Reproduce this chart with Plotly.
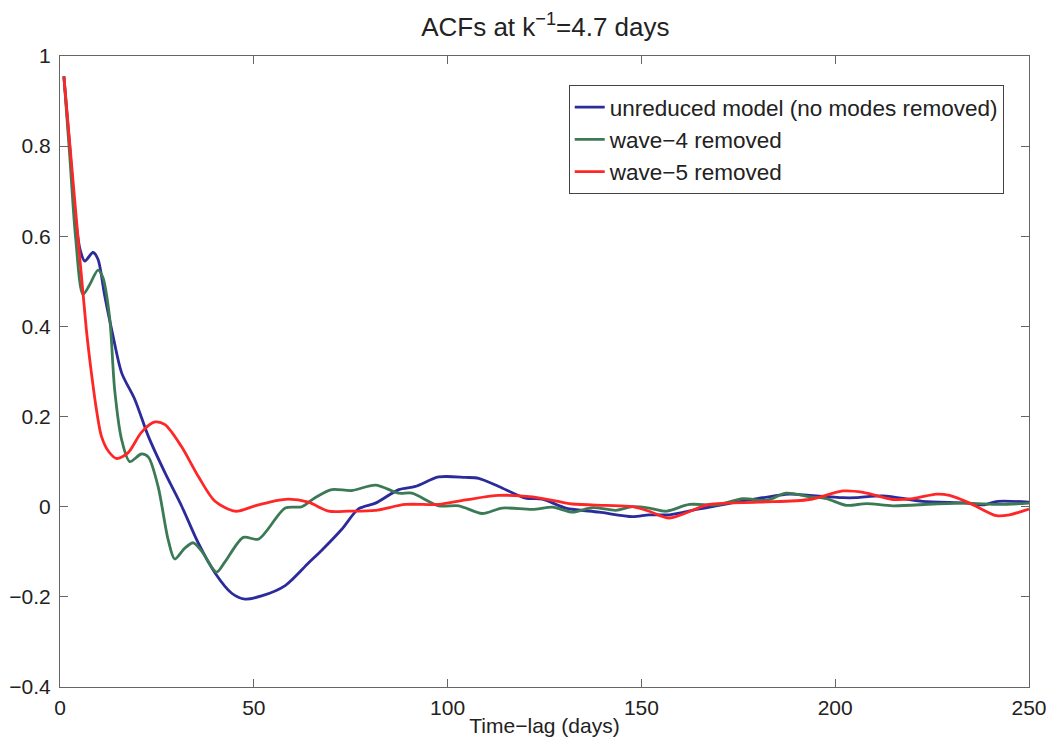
import plotly.graph_objects as go

# ---- data ----
blue_x = [1, 2.5, 4, 5.2, 6.4, 8.5, 9.8, 11.5, 13.7, 15.9, 19.3, 22.8, 27.1, 31.4, 35.7, 40, 44.3, 47.7,
          52, 58.1, 64.1, 67.6, 72.7, 77, 81.4, 87.4, 91.7, 97.7, 104.6, 108, 113.2, 120.1, 124.4, 130.5,
          139.1, 147.7, 152, 157.2, 165, 177.9, 188.2, 193.4, 202, 205.4, 212.3, 222.6, 233.9, 238.2, 242, 250]
blue_y = [0.955, 0.80, 0.64, 0.57, 0.545, 0.564, 0.549, 0.47, 0.378, 0.297, 0.238, 0.156, 0.075, 0.001,
          -0.081, -0.147, -0.192, -0.205, -0.198, -0.175, -0.125, -0.096, -0.05, -0.005, 0.008, 0.038,
          0.045, 0.066, 0.065, 0.063, 0.045, 0.019, 0.017, -0.003, -0.012, -0.022, -0.018, -0.018, -0.005,
          0.015, 0.028, 0.025, 0.02, 0.02, 0.024, 0.012, 0.008, 0.004, 0.012, 0.01]

green_x = [1, 2.5, 4, 5.9, 7.5, 9.8, 11, 12.8, 14.1, 15.9, 18, 21, 22.8, 25.3, 27.9, 29.6, 32.2, 34.4,
           36.5, 40.4, 42.6, 47.3, 51.2, 58.1, 62.4, 65.8, 70.1, 75.3, 81.4, 87.4, 90.8, 97.7, 102.9,
           108.9, 114.1, 121.9, 127.1, 132.2, 137.4, 143.4, 147.7, 152, 156.3, 162.4, 169.3, 176.2,
           182.2, 187.4, 193.4, 197.7, 202.9, 208.1, 214.9, 225.3, 233.9, 242.5, 250]
green_y = [0.955, 0.78, 0.60, 0.471, 0.49, 0.525, 0.51, 0.42, 0.26, 0.149, 0.100, 0.117, 0.110, 0.045,
           -0.073, -0.116, -0.092, -0.080, -0.098, -0.145, -0.122, -0.068, -0.072, -0.003, 0.000, 0.02,
           0.038, 0.036, 0.048, 0.030, 0.030, 0.002, 0.002, -0.015, -0.003, -0.006, -0.001, -0.012,
           -0.002, -0.008, 0.000, -0.003, -0.010, 0.005, 0.004, 0.018, 0.014, 0.030, 0.022, 0.018,
           0.003, 0.007, 0.002, 0.006, 0.008, 0.005, 0.008]

red_x = [1, 4, 6.8, 8.1, 9.5, 10.7, 12.5, 14.6, 17.6, 21, 24.5, 27.1, 31.3, 35.7, 40, 45.2, 50.3, 55,
         58.9, 64.1, 69.3, 74.5, 81.4, 89.1, 97.7, 104.6, 113.2, 121.9, 132.2, 140.8, 147.7, 152,
         157.2, 167.5, 180.5, 193.4, 202, 207.2, 214.9, 220.1, 226.1, 229.5, 234.7, 241.6, 245, 250]
red_y = [0.955, 0.66, 0.393, 0.297, 0.21, 0.156, 0.123, 0.107, 0.120, 0.165, 0.188, 0.182, 0.134,
         0.067, 0.012, -0.010, 0.002, 0.012, 0.017, 0.010, -0.010, -0.010, -0.008, 0.005, 0.005,
         0.015, 0.025, 0.022, 0.006, 0.003, 0.000, -0.010, -0.025, 0.005, 0.010, 0.016, 0.035,
         0.032, 0.016, 0.018, 0.028, 0.025, 0.008, -0.020, -0.018, -0.005]

names = ["unreduced model (no modes removed)", "wave\u22124 removed", "wave\u22125 removed"]
colors = ["#2b2b9b", "#3b7a55", "#ff2626"]

fig = go.Figure()
for xs, ys, nm, c in zip([blue_x, green_x, red_x], [blue_y, green_y, red_y], names, colors):
    fig.add_trace(go.Scatter(x=xs, y=ys, mode="lines", name=nm,
                             line=dict(color=c, width=2.8, shape="spline", smoothing=0.8)))

font_family = "Liberation Sans, Arial, sans-serif"
fig.update_layout(
    width=1061, height=743,
    margin=dict(l=60, r=32, t=56, b=56, autoexpand=False),
    paper_bgcolor="white", plot_bgcolor="white",
    font=dict(family=font_family, color="#222222", size=21),
    title=dict(text="ACFs at k<sup>\u22121</sup>=4.7 days", x=0.514, xanchor="center",
               y=0.964, yanchor="middle", font=dict(size=26, family=font_family, color="#222222")),
    showlegend=True,
    legend=dict(x=0.525, y=0.954, xanchor="left", yanchor="top",
                bordercolor="#444444", borderwidth=1, bgcolor="white",
                font=dict(size=22.5, family=font_family, color="#222222"),
                tracegroupgap=0),
)
fig.update_xaxes(range=[0, 250], tickvals=[0, 50, 100, 150, 200, 250],
                 showline=True, linecolor="#666666", linewidth=1, mirror="ticks",
                 ticks="inside", ticklen=8, tickcolor="#666666", showgrid=False, zeroline=False,
                 ticklabelstandoff=2, automargin=False,
                 title=dict(text="Time\u2212lag (days)", standoff=0, font=dict(size=21)))
fig.update_yaxes(range=[-0.4, 1], tickvals=[-0.4, -0.2, 0, 0.2, 0.4, 0.6, 0.8, 1],
                 ticktext=["\u22120.4", "\u22120.2", "0", "0.2", "0.4", "0.6", "0.8", "1"],
                 showline=True, linecolor="#666666", linewidth=1, mirror="ticks",
                 ticks="inside", ticklen=8, tickcolor="#666666", showgrid=False, zeroline=False,
                 ticklabelstandoff=4, automargin=False)

fig.write_html("out.html")
